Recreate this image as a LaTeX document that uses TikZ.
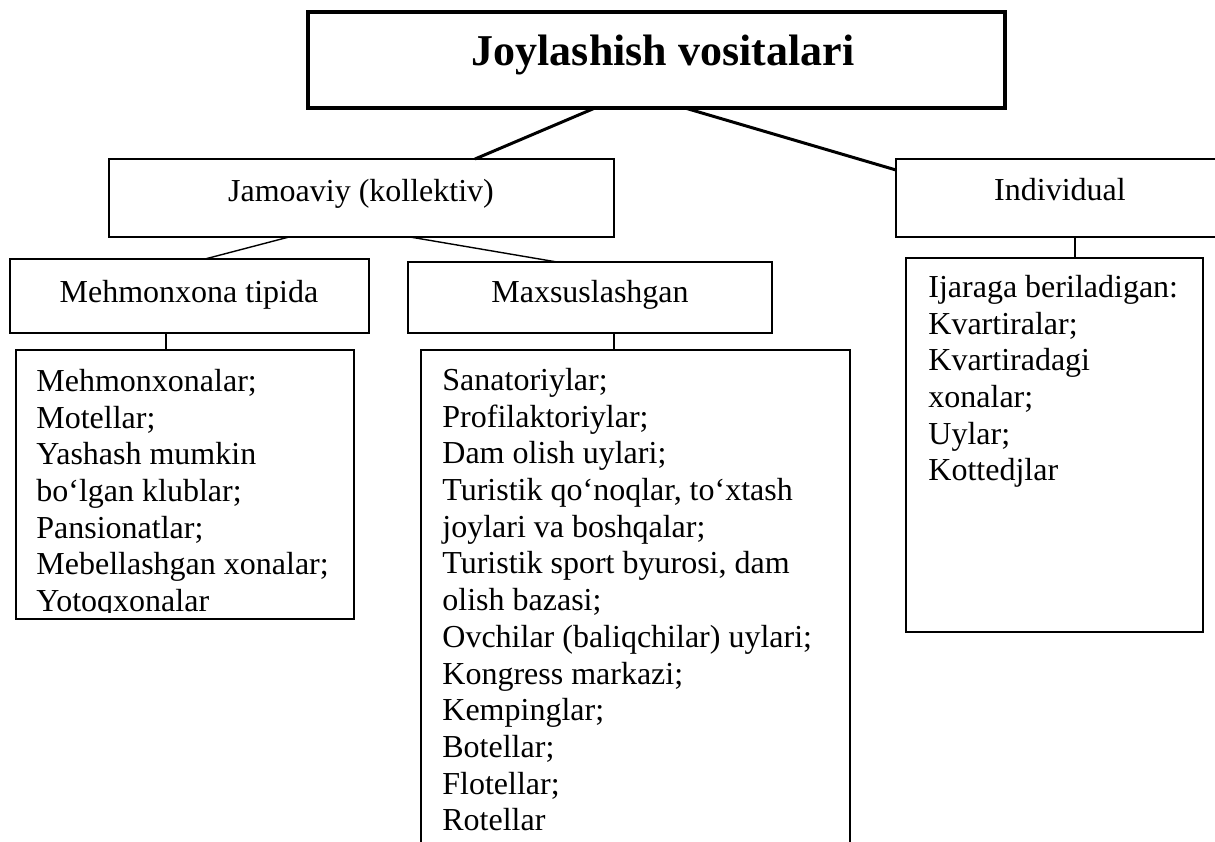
\documentclass[tikz,border=0pt]{standalone}
\usepackage{fontspec}
\setmainfont{Liberation Serif}
\usetikzlibrary{calc}
\newcommand\mkbox[6]{\node[#6, minimum width={(#4-#2)*0.5pt}, minimum height={(#5-#3)*0.5pt}] (#1) at ({(#2+#4)/2},{(#3+#5)/2}) {};}
\tikzset{
  bigbox/.style={draw, line width=1.75pt, inner sep=0pt, outer sep=0pt},
  box/.style={draw, line width=0.9pt, inner sep=0pt, outer sep=0pt},
  thicklink/.style={line width=1.5pt},
  thinlink/.style={line width=0.7pt},
  lbl/.style={inner sep=0pt, anchor=base, font=\fontsize{16}{18.35}\selectfont},
  lst/.style={inner sep=0pt, anchor=north west, align=left, font=\fontsize{16}{18.35}\selectfont},
  ttl/.style={inner sep=0pt, anchor=base, font=\bfseries\fontsize{22}{26}\selectfont},
}
\begin{document}
\begin{tikzpicture}[x=0.5pt,y=-0.5pt]
\clip (0,0) rectangle (1215,841);
\fill[white] (0,0) rectangle (1215,841);
\mkbox{top}{308}{12}{1005}{108}{bigbox}
\mkbox{jam}{109}{159}{614}{237}{box}
\mkbox{ind}{896}{159}{1224}{237}{box}
\mkbox{meh}{10}{259}{369}{333}{box}
\mkbox{max}{408}{262}{772}{333}{box}
\mkbox{mehl}{16}{350}{354}{619}{box}
\mkbox{maxl}{421}{350}{850}{870}{box}
\mkbox{indl}{906}{258}{1203}{632}{box}

\node[ttl] (ttltext) at (663,65) {Joylashish vositalari};
\node[lbl] (jamt) at (361,201) {Jamoaviy (kollektiv)};
\node[lbl] (indt) at (1060,200) {Individual};
\node[lbl] (meht) at (189,302) {Mehmonxona tipida};
\node[lbl] (maxt) at (590,302) {Maxsuslashgan};

\begin{scope}
\clip (0,0) rectangle (1215,612);
\node[lst] (mehtx) at (36,365.3) {\strut Mehmonxonalar;\\Motellar;\\Yashash mumkin\\bo‘lgan klublar;\\Pansionatlar;\\Mebellashgan xonalar;\\Yotoqxonalar};
\end{scope}
\node[lst] (maxtx) at (442,364.3) {\strut Sanatoriylar;\\Profilaktoriylar;\\Dam olish uylari;\\Turistik qo‘noqlar, to‘xtash\\joylari va boshqalar;\\Turistik sport byurosi, dam\\olish bazasi;\\Ovchilar (baliqchilar) uylari;\\Kongress markazi;\\Kempinglar;\\Botellar;\\Flotellar;\\Rotellar};
\node[lst] (indtx) at (928,271.3) {\strut Ijaraga beriladigan:\\Kvartiralar;\\Kvartiradagi\\xonalar;\\Uylar;\\Kottedjlar};

\draw[thicklink] ($(top.south west)+(287,0)$) -- ($(jam.north west)+(366,0)$);
\draw[thicklink] ($(top.south west)+(377,0)$) -- ($(ind.north west)+(0,11)$);
\draw[thinlink] ($(jam.south west)+(180,0)$) -- ($(meh.north west)+(195,0)$);
\draw[thinlink] ($(jam.south west)+(301,0)$) -- ($(max.north west)+(149,0)$);
\draw[thinlink] ($(meh.south west)+(156,0)$) -- ($(mehl.north west)+(150,0)$);
\draw[thinlink] ($(max.south west)+(206,0)$) -- ($(maxl.north west)+(193,0)$);
\draw[thinlink] ($(ind.south west)+(179,0)$) -- ($(indl.north west)+(169,0)$);
\end{tikzpicture}
\end{document}
